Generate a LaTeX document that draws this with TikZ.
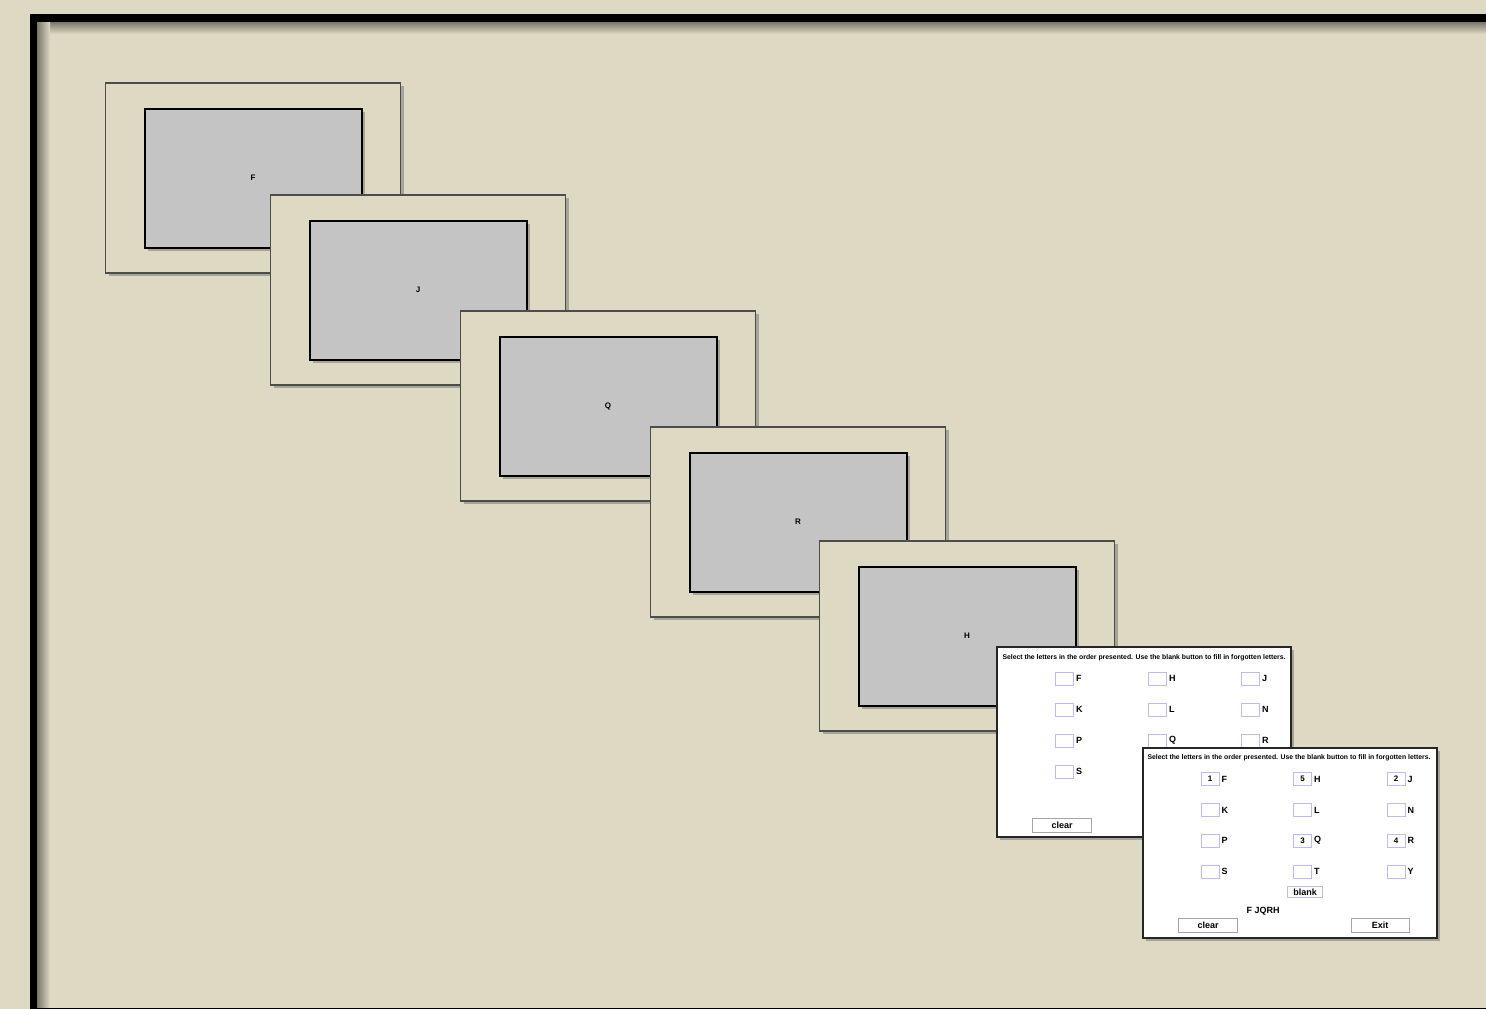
\documentclass[tikz,border=0pt]{standalone}
\usepackage{graphicx}
\usepackage{fontspec}
\setmainfont{Liberation Sans}
\usetikzlibrary{positioning,shadows}

\definecolor{sfondo}{HTML}{DDD9C3}
\definecolor{grigiostim}{HTML}{C4C4C4}
\definecolor{bordocasella}{HTML}{BDBDEB}

\begin{document}
\begin{tikzpicture}[x=1pt, y=-1pt,
  ombra/.style={drop shadow={shadow xshift=3pt, shadow yshift=-3pt, opacity=0.6}},
  cornice/.style={ombra, draw=black!70, line width=1.8pt, fill=sfondo,
    minimum width=295pt, minimum height=190pt, inner sep=0pt},
  stimolo/.style={ombra, draw=black, line width=2pt, fill=grigiostim,
    minimum width=217pt, minimum height=139pt, inner sep=0pt,
    font=\fontsize{8}{8}\selectfont\bfseries},
  schermo/.style={ombra, draw=black!85, line width=2pt, fill=white,
    minimum width=294pt, minimum height=190pt, inner sep=0pt},
  casella/.style={draw=bordocasella, line width=0.9pt, minimum width=18pt,
    minimum height=13pt, inner sep=0pt, font=\fontsize{8}{8}\selectfont\bfseries},
  lettera/.style={right=2pt of #1, inner sep=0pt, font=\fontsize{9}{9}\selectfont\bfseries},
  bottone/.style={draw=black!35, line width=1pt, fill=white, inner sep=0pt,
    font=\fontsize{9}{9}\selectfont\bfseries},
  istruzioni/.style={inner sep=0pt, font=\bfseries}
]
% =====================
% SFONDO E CORNICE
% =====================
\clip (0,0) rectangle (1486,1009);
\fill[sfondo] (0,0) rectangle (1486,1009);
\shade[top color=black!45!sfondo, bottom color=sfondo] (50,22) rectangle (1486,34);
\shade[left color=black!45!sfondo, right color=sfondo] (37,22) rectangle (50,1009);
\draw[line width=7.5pt] (33.5,18) rectangle (1530,1011.5);

% =====================
% SEQUENZA DI LETTERE
% =====================
\foreach \ch/\cx/\cy [count=\i] in {F/253/178, J/418/290, Q/608/406, R/798/522, H/967/636}{
  \node[cornice] (cornice\i) at (\cx,\cy) {};
  \node[stimolo] (stimolo\i) at (\cx,\cy) {\ch};
}

% =====================
% SCHERMATA DI RISPOSTA 1
% =====================
\begin{scope}[shift={(998,647)}]
  \node[schermo] (schermo1) at (146,95) {};
  \node[istruzioni] (istr1) at (146,11)
    {\resizebox{283pt}{!}{Select the letters in the order presented. Use the blank button to fill in forgotten letters.}};
  \foreach \ch/\cx/\cy in {F/66.5/31.5, H/159.5/31.5, J/252.5/31.5,
      K/66.5/62.5, L/159.5/62.5, N/252.5/62.5,
      P/66.5/93.5, Q/159.5/93.5, R/252.5/93.5, S/66.5/124.5}{
    \node[casella] (a-\ch) at (\cx,\cy) {};
    \node[lettera=a-\ch] (a-\ch-t) {\ch};
  }
  \node[bottone, minimum width=59pt, minimum height=14pt] (clear1) at (64,178) {clear};
\end{scope}

% =====================
% SCHERMATA DI RISPOSTA 2
% =====================
\begin{scope}[shift={(1143,747)}]
  \node[schermo] (schermo2) at (147,95.5) {};
  \node[istruzioni] (istr2) at (146,11)
    {\resizebox{283pt}{!}{Select the letters in the order presented. Use the blank button to fill in forgotten letters.}};
  \foreach \ch/\cx/\cy/\num in {F/67/32/1, H/159.5/32/5, J/253/32/2,
      K/67/63/{}, L/159.5/63/{}, N/253/63/{},
      P/67/93.5/{}, Q/159.5/93.5/3, R/253/93.5/4,
      S/67/124.5/{}, T/159.5/124.5/{}, Y/253/124.5/{}}{
    \node[casella] (b-\ch) at (\cx,\cy) {\num};
    \node[lettera=b-\ch] (b-\ch-t) {\ch};
  }
  \node[bottone, draw=bordocasella, minimum width=35pt, minimum height=11pt] (blank) at (162,145) {blank};
  \node[inner sep=0pt, font=\fontsize{9}{9}\selectfont\bfseries] (risposta) at (120,164) {F JQRH};
  \node[bottone, minimum width=59pt, minimum height=14pt] (clear2) at (65,178) {clear};
  \node[bottone, minimum width=58pt, minimum height=14pt] (exit) at (237,178) {Exit};
\end{scope}
\end{tikzpicture}
\end{document}
